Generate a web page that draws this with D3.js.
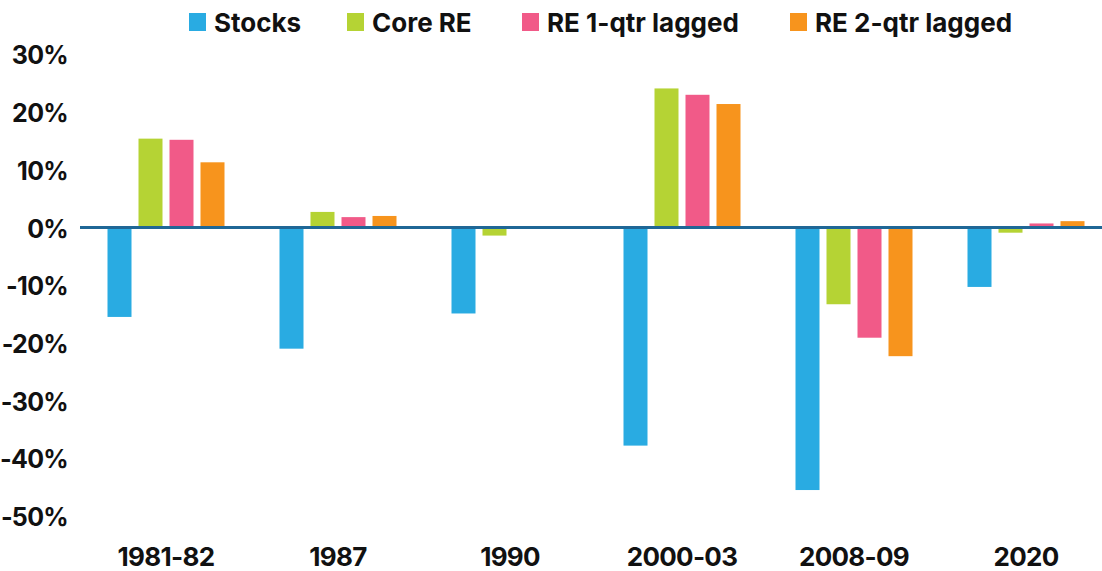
<!DOCTYPE html>
<html>
<head>
<meta charset="utf-8">
<script src="https://cdn.jsdelivr.net/npm/d3@7"></script>
<style>
  html, body { margin: 0; padding: 0; background: #fff; }
  svg { display: block; }
  text { font-family: Inter, "Open Sans", sans-serif; font-weight: 700; fill: #111; }
</style>
</head>
<body>
<svg id="chart" width="1102" height="571"></svg>
<script>
const categories = ["1981-82", "1987", "1990", "2000-03", "2008-09", "2020"];
const seriesNames = ["Stocks", "Core RE", "RE 1-qtr lagged", "RE 2-qtr lagged"];
const stocks   = [-15.5, -21.0, -14.9, -37.8, -45.5, -10.3];
const coreRE   = [15.4, 2.7, -1.4, 24.1, -13.3, -0.9];
const re1qtr   = [15.2, 1.8, null, 23.0, -19.1, 0.7];
const re2qtr   = [11.3, 2.0, null, 21.4, -22.3, 1.1];
const yTicks   = [30, 20, 10, 0, -10, -20, -30, -40, -50];
const colors   = ["#29ABE2", "#B5D334", "#F15A88", "#F7941D"];

const seriesValues = [stocks, coreRE, re1qtr, re2qtr];
const svg = d3.select("#chart");

const y = d3.scaleLinear().domain([-50, 30]).range([516, 54.4]);
const x0 = d3.scaleBand().domain(categories).range([80, 1112]).padding(0);
const groupWidth = 117;
const x1 = d3.scaleBand().domain(seriesNames).range([0, groupWidth]).paddingInner(7 / 31).paddingOuter(0);
const groupOffset = (x0.bandwidth() - groupWidth) / 2;

// y tick labels
svg.append("g").selectAll("text").data(yTicks).join("text")
  .attr("x", 68)
  .attr("y", d => y(d))
  .attr("dy", "0.4em")
  .attr("text-anchor", "end")
  .style("font-size", "25px")
  .style("letter-spacing", "-0.7px")
  .text(d => d + "%");

// bars
const groups = svg.append("g").selectAll("g").data(categories).join("g")
  .attr("transform", d => `translate(${x0(d) + groupOffset},0)`);

groups.selectAll("rect")
  .data((c, i) => seriesNames.map((s, j) => ({ s, j, v: seriesValues[j][i] })).filter(d => d.v !== null))
  .join("rect")
  .attr("x", d => x1(d.s))
  .attr("width", x1.bandwidth())
  .attr("y", d => y(Math.max(0, d.v)))
  .attr("height", d => Math.abs(y(d.v) - y(0)))
  .attr("fill", d => colors[d.j]);

// zero line
svg.append("line")
  .attr("x1", 80).attr("x2", 1102)
  .attr("y1", y(0)).attr("y2", y(0))
  .attr("stroke", "#1F6796")
  .attr("stroke-width", 3);

// x axis labels (centred under each group)
const xAxis = d3.axisBottom(x0).tickSize(0).tickPadding(0);
const gx = svg.append("g").attr("transform", "translate(0,547)").call(xAxis);
gx.select(".domain").remove();
gx.selectAll("text")
  .attr("dy", "0.74em")
  .style("font-size", "26px")
  .style("letter-spacing", "-0.7px")
  .style("font-family", "Inter, 'Open Sans', sans-serif")
  .style("font-weight", 700)
  .attr("fill", "#111");

// legend
const legendX = [189, 347, 522, 790];
const lg = svg.append("g").selectAll("g").data(seriesNames).join("g")
  .attr("transform", (d, i) => `translate(${legendX[i]},13)`);
lg.append("rect").attr("width", 17).attr("height", 18).attr("fill", (d, i) => colors[i]);
lg.append("text").attr("x", 25).attr("y", 9).attr("dy", "0.37em")
  .style("font-size", "26px").text(d => d);
</script>
</body>
</html>
